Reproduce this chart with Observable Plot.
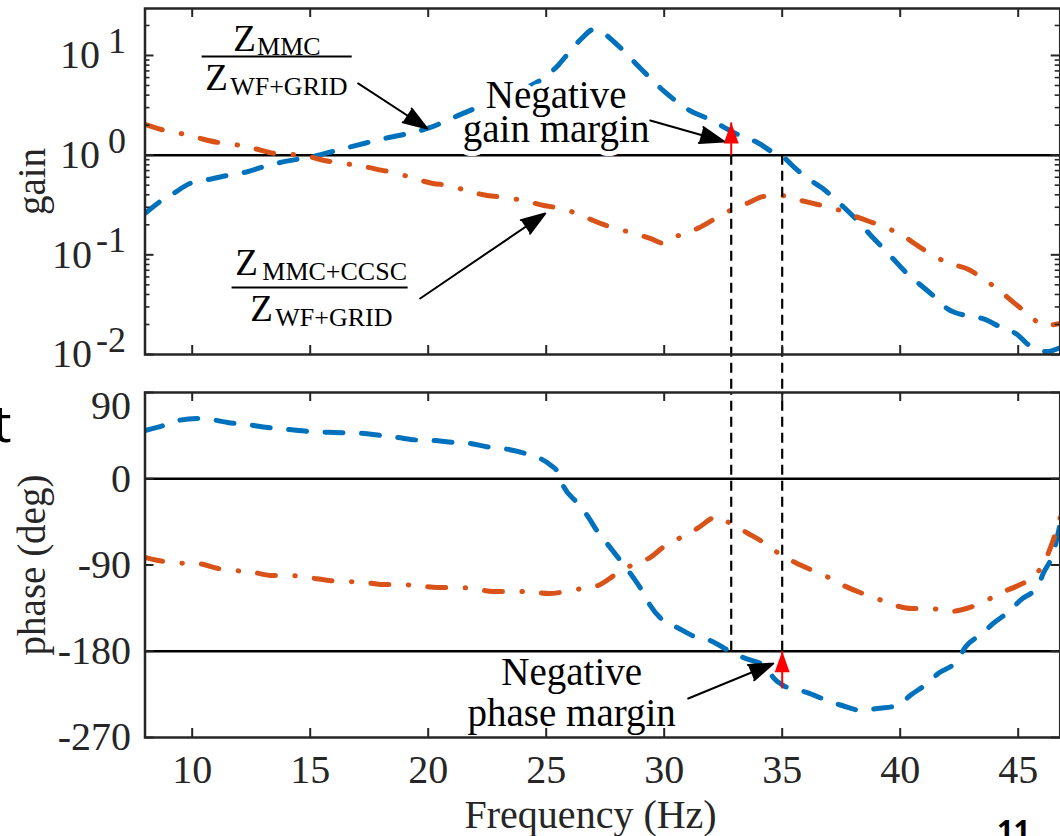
<!DOCTYPE html>
<html>
<head>
<meta charset="utf-8">
<script src="https://cdn.jsdelivr.net/npm/d3@7"></script>
<script src="https://cdn.jsdelivr.net/npm/@observablehq/plot@0.6"></script>
<style>
  html, body { margin: 0; padding: 0; background: #fff; }
  #wrap { position: relative; width: 1060px; height: 836px; overflow: hidden; background: #fff; }
  #wrap > svg { position: absolute; left: 0; top: 0; }
</style>
</head>
<body>
<div id="wrap"></div>
<script>
// ---------------- data ----------------
const freqTicks = [10, 15, 20, 25, 30, 35, 40, 45];
const gainDecades = [0.01, 0.1, 1, 10];
const gainMinorTicks = [0.02, 0.03, 0.04, 0.05, 0.06, 0.07, 0.08, 0.09,
  0.2, 0.3, 0.4, 0.5, 0.6, 0.7, 0.8, 0.9, 2, 3, 4, 5, 6, 7, 8, 9, 20];
const phaseTicks = [90, 0, -90, -180, -270];

// Z_MMC / Z_WF+GRID  (blue, dashed)
const blueGainFreq = [8.0, 8.7, 9.2, 9.9, 10.5, 11.5, 12.2, 13.2, 14.0, 15.0, 16.0, 17.0, 18.0, 19.0, 20.0,
  21.0, 22.0, 23.0, 24.0, 24.8, 25.5, 26.0, 26.5, 27.0, 27.3, 28.0, 29.0, 30.0, 31.0, 32.0, 33.0, 34.0,
  34.6, 35.0, 35.5, 36.0, 36.8, 37.6, 38.2, 38.7, 39.3, 39.7, 40.3, 40.8, 41.5, 42.0, 42.8, 43.5, 44.3,
  44.9, 45.6, 46.2, 46.78];
const blueGain = [0.260, 0.351, 0.412, 0.520, 0.557, 0.625, 0.670, 0.787, 0.871, 0.955, 1.096, 1.259, 1.445,
  1.622, 1.862, 2.344, 2.951, 3.631, 4.571, 5.754, 7.943, 10.96, 14.79, 18.20, 17.38, 12.88, 7.413, 4.365,
  2.884, 2.239, 1.660, 1.318, 1.072, 0.977, 0.759, 0.603, 0.447, 0.302, 0.219, 0.162, 0.115, 0.0912,
  0.0646, 0.0513, 0.0372, 0.0288, 0.0245, 0.0229, 0.0186, 0.0162, 0.0117, 0.0107, 0.0117];

// Z_MMC+CCSC / Z_WF+GRID  (orange, dash-dot)
const orangeGainFreq = [8.0, 8.8, 9.5, 10.2, 11.1, 11.8, 12.6, 13.5, 14.2, 14.9, 15.6, 16.4, 17.2, 18.0, 18.7,
  19.4, 20.2, 20.9, 21.6, 22.5, 23.3, 24.0, 24.9, 25.6, 26.3, 27.2, 27.8, 28.6, 29.4, 30.0, 30.6, 31.5,
  32.1, 32.8, 33.6, 34.2, 34.9, 35.8, 36.5, 37.2, 38.0, 38.7, 39.4, 40.1, 40.8, 41.4, 42.1, 42.9, 43.5,
  44.2, 44.8, 45.4, 46.1, 46.78];
const orangeGain = [2.04, 1.78, 1.65, 1.50, 1.34, 1.28, 1.17, 1.04, 1.02, 0.971, 0.885, 0.826, 0.776, 0.708,
  0.655, 0.583, 0.520, 0.497, 0.442, 0.394, 0.376, 0.351, 0.313, 0.292, 0.260, 0.211, 0.188, 0.167, 0.146,
  0.130, 0.156, 0.188, 0.226, 0.279, 0.335, 0.385, 0.394, 0.351, 0.320, 0.292, 0.248, 0.216, 0.188, 0.156,
  0.121, 0.0984, 0.0818, 0.0713, 0.0579, 0.0439, 0.0333, 0.0258, 0.0195, 0.0205];

const bluePhaseFreq = [8.0, 8.8, 9.4, 10.2, 10.8, 11.5, 12.3, 13.2, 14.1, 15.0, 16.0, 17.1, 18.0, 18.7, 19.5,
  20.2, 21.1, 21.7, 22.6, 23.3, 24.1, 24.75, 25.2, 25.5, 25.72, 26.3, 26.74, 27.2, 27.58, 28.14, 28.69,
  29.11, 29.41, 29.96, 30.55, 31.4, 31.95, 32.8, 33.35, 34.36, 34.62, 35.04, 36.06, 36.91, 37.54, 38.39,
  39.03, 39.92, 40.42, 41.14, 41.61, 42.42, 42.75, 43.47, 43.94, 44.66, 45.08, 45.85, 46.06, 46.48, 46.78];
const bluePhase = [50.3, 55.6, 60.8, 62.9, 61.8, 58.7, 56.6, 53.5, 51.4, 49.3, 48.3, 47.5, 45.1, 43.0, 40.5,
  39.9, 37.8, 37.0, 33.0, 31.0, 26.5, 21.1, 14.0, 6.5, -7.1, -24.8, -38.4, -56.1, -67.6, -85.3, -103.1,
  -118.7, -132.3, -147.9, -155.2, -165.7, -168.8, -180.3, -186.5, -197.0, -207.4, -215.7, -223.1, -231.4,
  -236.6, -241.8, -239.7, -236.6, -226.2, -213.7, -203.2, -189.7, -176.1, -161.5, -151.0, -137.5, -127.0,
  -111.4, -98.9, -78.0, -46.7];

const orangePhaseFreq = [8.0, 8.5, 9.49, 10.2, 11.1, 11.8, 12.6, 13.4, 14.15, 14.9, 15.8, 16.5, 17.2, 18.1,
  18.8, 19.5, 20.4, 21.2, 21.9, 22.75, 23.5, 24.2, 25.1, 25.85, 26.5, 27.2, 28.0, 28.6, 29.4, 30.0, 30.7,
  31.4, 32.1, 32.3, 32.8, 33.56, 34.15, 34.8, 35.55, 36.2, 36.8, 37.6, 38.3, 38.9, 39.8, 40.5, 41.3, 42.1,
  42.8, 43.5, 44.2, 45.0, 45.6, 46.1, 46.4, 46.78];
const orangePhase = [-82.0, -85.0, -88.1, -88.4, -93.7, -95.7, -97.8, -101.0, -101.0, -103.0, -106.2, -107.2,
  -107.8, -110.4, -110.4, -111.4, -113.5, -113.5, -114.5, -117.7, -117.7, -117.7, -119.7, -117.7, -114.5,
  -111.4, -98.9, -90.5, -82.2, -70.7, -61.3, -51.9, -40.4, -39.0, -46.7, -57.1, -65.5, -77.0, -87.4, -94.7,
  -101.0, -111.4, -118.7, -123.9, -132.3, -135.4, -135.4, -138.5, -135.4, -129.1, -119.7, -111.4, -103.0,
  -87.4, -69.7, -40.4];

// margin markers and annotations (data coordinates: Hz, gain, degrees)
const marginFreqs = [32.84, 35];
const redArrowGain = [{f: 32.84, from: 1, to: 2.13}];
const redArrowPhase = [{f: 35, from: -218.9, to: -180}];
const gainArrows = [
  {f1: 17.03, g1: 5.24, f2: 19.96, g2: 1.85},
  {f1: 19.66, g1: 0.0365, f2: 24.96, g2: 0.26},
  {f1: 29.41, g1: 2.23, f2: 32.54, g2: 1.37}
];
const phaseArrows = [{f1: 31.02, p1: -229.3, f2: 34.62, p2: -192.8}];
const gainNotes = [{f: 25.42, g: 1.37, label: "Negative\ngain margin"}];
const phaseNotes = [{f: 26.08, p: -257.5, label: "Negative\nphase margin"}];
const fracZ = [
  {f: 11.74, g: 11.2}, {f: 10.55, g: 4.46},
  {f: 11.82, g: 0.0621}, {f: 12.46, g: 0.0219}
];
const fracSubs = [
  {f: 12.75, g: 10.2, label: "MMC"}, {f: 11.61, g: 3.97, label: "WF+GRID"},
  {f: 12.97, g: 0.0565, label: "MMC+CCSC"}, {f: 13.52, g: 0.0195, label: "WF+GRID"}
];
const fracBars = [{f1: 10.42, f2: 16.78, g: 9.77}, {f1: 11.69, f2: 19.15, g: 0.0470}];

// ---------------- layout / style ----------------
const W = 1060, H = 836;
const ML = 144.5, MR = 0.3;
const TOP_T = 8, TOP_B = 354, BOT_T = 392, BOT_B = 737;
const PW = W - ML - MR;
const PH_TOP = TOP_B - TOP_T, PH_BOT = BOT_B - BOT_T;
const BLUE = "#0072BD", ORANGE = "#D95319", AX = "#262626";
const FONT = "'Liberation Serif', 'Times New Roman', serif";

const zip = (xs, ys) => xs.map((x, i) => ({x, y: ys[i]}));
const blueGainRows = zip(blueGainFreq, blueGain);
const orangeGainRows = zip(orangeGainFreq, orangeGain);
const bluePhaseRows = zip(bluePhaseFreq, bluePhase);
const orangePhaseRows = zip(orangePhaseFreq, orangePhase);

const arrowHead = {draw(ctx) { ctx.moveTo(0, 0); ctx.lineTo(7.5, 21); ctx.lineTo(-7.5, 21); ctx.closePath(); }};

const blueStyle = {stroke: BLUE, strokeWidth: 5, strokeDasharray: "18,18.5", strokeLinecap: "round", curve: "monotone-x", clip: true};
const orangeStyle = {stroke: ORANGE, strokeWidth: 5, strokeDasharray: "18,19.5,0.5,19", strokeLinecap: "round", curve: "monotone-x", clip: true};
const dashedRule = {stroke: "#000", strokeWidth: 2.2, strokeDasharray: "10,6"};

function yBoxTicks(yTicks, len, sw) {
  return [
    Plot.tickY(yTicks, {y: d => d, insetRight: PW - len, stroke: AX, strokeWidth: sw}),
    Plot.tickY(yTicks, {y: d => d, insetLeft: PW - len, stroke: AX, strokeWidth: sw})
  ];
}
function xBoxTicks(PH) {
  return [
    Plot.tickX(freqTicks, {x: d => d, insetBottom: PH - 9, stroke: AX, strokeWidth: 2}),
    Plot.tickX(freqTicks, {x: d => d, insetTop: PH - 9, stroke: AX, strokeWidth: 2})
  ];
}

// ---------------- gain panel ----------------
const gainChart = Plot.plot({
  width: W, height: H,
  marginLeft: ML, marginRight: MR, marginTop: TOP_T, marginBottom: H - TOP_B,
  style: {background: "transparent", fontFamily: FONT, overflow: "visible"},
  x: {domain: [8, 46.78], axis: null},
  y: {type: "log", domain: [0.01, 29.6], axis: null},
  marks: [
    Plot.ruleY([1], {stroke: "#000", strokeWidth: 2.5}),
    Plot.line(blueGainRows, {x: "x", y: "y", ...blueStyle}),
    Plot.line(orangeGainRows, {x: "x", y: "y", ...orangeStyle}),
    Plot.ruleX(marginFreqs, {y1: 1, y2: 0.01, ...dashedRule, insetBottom: -(BOT_T - TOP_B)}),
    Plot.link(redArrowGain, {x1: "f", x2: "f", y1: "from", y2: "to", stroke: "red", strokeWidth: 2}),
    Plot.dot(redArrowGain, {x: "f", y: "to", symbol: arrowHead, fill: "red", stroke: "none"}),
    Plot.ruleY(fracBars, {y: "g", x1: "f1", x2: "f2", stroke: "#000", strokeWidth: 2}),
    Plot.text(fracZ, {x: "f", y: "g", text: () => "Z", fontSize: 37, textAnchor: "start", lineAnchor: "bottom", fill: "#000"}),
    Plot.text(fracSubs, {x: "f", y: "g", text: "label", fontSize: 26, textAnchor: "start", lineAnchor: "bottom", fill: "#000"}),
    Plot.text(gainNotes, {x: "f", y: "g", text: "label", fontSize: 39, lineHeight: 0.87, textAnchor: "middle", lineAnchor: "bottom",
      fill: "#000", stroke: "#fff", strokeWidth: 10, paintOrder: "stroke"}),
    Plot.arrow(gainArrows, {x1: "f1", y1: "g1", x2: "f2", y2: "g2", stroke: "#000", fill: "#000", strokeWidth: 2, headLength: 19, headAngle: 38}),
    ...yBoxTicks(gainMinorTicks, 5, 1.6),
    ...yBoxTicks(gainDecades, 9, 2),
    ...xBoxTicks(PH_TOP),
    Plot.frame({stroke: AX, strokeWidth: 2.5}),
    Plot.axisY({ticks: [1, 10], tickSize: 0, tickPadding: 45, tickFormat: () => "10", fontSize: 40, color: AX, label: null}),
    Plot.axisY({ticks: [0.01, 0.1], tickSize: 0, tickPadding: 53, tickFormat: () => "10", fontSize: 40, color: AX, label: null}),
    Plot.axisY({ticks: gainDecades, tickSize: 0, tickPadding: 19, dy: -14,
      tickFormat: d => String(Math.round(Math.log10(d))), fontSize: 36, color: AX, label: null}),
    Plot.text(["gain"], {text: d => d, frameAnchor: "left", rotate: -90, dx: -100, fontSize: 39,
      textAnchor: "middle", lineAnchor: "bottom", fill: AX})
  ]
});

// ---------------- phase panel ----------------
const phaseChart = Plot.plot({
  width: W, height: H,
  marginLeft: ML, marginRight: MR, marginTop: BOT_T, marginBottom: H - BOT_B,
  style: {background: "transparent", fontFamily: FONT, overflow: "visible"},
  x: {domain: [8, 46.78], axis: null},
  y: {domain: [-270, 90], axis: null},
  marks: [
    Plot.ruleY([0, -180], {stroke: "#000", strokeWidth: 2.5}),
    Plot.line(bluePhaseRows, {x: "x", y: "y", ...blueStyle}),
    Plot.line(orangePhaseRows, {x: "x", y: "y", ...orangeStyle}),
    Plot.ruleX(marginFreqs, {y1: -180, y2: 90, ...dashedRule}),
    Plot.link(redArrowPhase, {x1: "f", x2: "f", y1: "from", y2: "to", stroke: "red", strokeWidth: 2}),
    Plot.dot(redArrowPhase, {x: "f", y: "to", symbol: arrowHead, fill: "red", stroke: "none"}),
    Plot.text(phaseNotes, {x: "f", y: "p", text: "label", fontSize: 39, lineHeight: 1.03, textAnchor: "middle", lineAnchor: "bottom", fill: "#000"}),
    Plot.arrow(phaseArrows, {x1: "f1", y1: "p1", x2: "f2", y2: "p2", stroke: "#000", fill: "#000", strokeWidth: 2, headLength: 19, headAngle: 38}),
    ...yBoxTicks(phaseTicks, 9, 2),
    ...xBoxTicks(PH_BOT),
    Plot.frame({stroke: AX, strokeWidth: 2.5}),
    Plot.axisX({ticks: freqTicks, tickSize: 0, tickPadding: 17, tickFormat: d => String(d), fontSize: 40, color: AX, label: null}),
    Plot.axisY({ticks: phaseTicks.filter(d => d !== 90), tickSize: 0, tickPadding: 14, tickFormat: d => String(d), fontSize: 40, color: AX, label: null}),
    Plot.axisY({ticks: [90], tickSize: 0, tickPadding: 14, dy: 14, tickFormat: d => String(d), fontSize: 40, color: AX, label: null}),
    Plot.text(["phase (deg)"], {text: d => d, frameAnchor: "left", rotate: -90, dx: -100, fontSize: 39,
      textAnchor: "middle", lineAnchor: "bottom", fill: AX}),
    Plot.text(["Frequency (Hz)"], {text: d => d, frameAnchor: "bottom", dx: -12, dy: 90, fontSize: 40,
      textAnchor: "middle", lineAnchor: "bottom", fill: AX})
  ]
});

const wrap = document.getElementById("wrap");
wrap.appendChild(gainChart);
wrap.appendChild(phaseChart);

// stray fragments of surrounding page text visible (cropped) in the screenshot
const ns = "http://www.w3.org/2000/svg";
const extra = document.createElementNS(ns, "svg");
extra.setAttribute("width", W); extra.setAttribute("height", H);
extra.style.position = "absolute"; extra.style.left = "0"; extra.style.top = "0";
[["t", -7, 442, 52, 400], ["11", 997, 841, 29, 700]].forEach(([s, x, y, fs, fw]) => {
  const t = document.createElementNS(ns, "text");
  t.setAttribute("x", x); t.setAttribute("y", y);
  t.setAttribute("font-family", "'Open Sans', 'DejaVu Sans', sans-serif");
  t.setAttribute("font-size", fs); t.setAttribute("font-weight", fw);
  t.textContent = s;
  extra.appendChild(t);
});
wrap.appendChild(extra);
</script>
</body>
</html>
